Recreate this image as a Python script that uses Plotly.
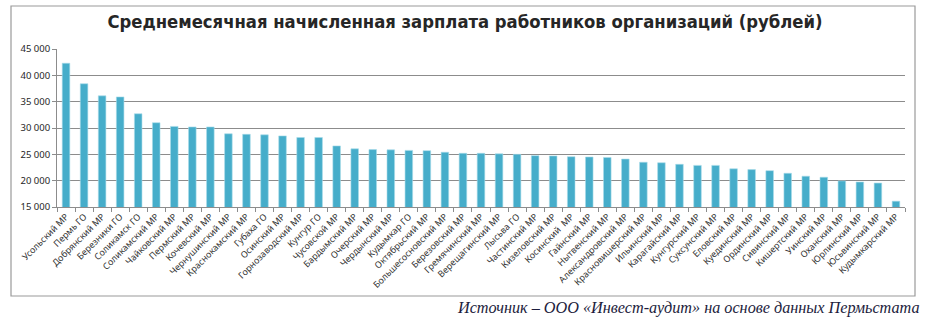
import plotly.graph_objects as go

# Municipal districts and urban okrugs of Perm Krai
regions = [
    "Усольский МР", "Пермь ГО", "Добрянский МР", "Березники ГО", "Соликамск ГО",
    "Соликамский МР", "Чайковский МР", "Пермский МР", "Кочевский МР", "Чернушинский МР",
    "Краснокамский МР", "Губаха ГО", "Осинский МР", "Горнозаводский МР", "Кунгур ГО",
    "Чусовской МР", "Бардымский МР", "Очерский МР", "Чердынский МР", "Кудымкар ГО",
    "Октябрьский МР", "Большесосновский МР", "Березовский МР", "Гремячинский МР",
    "Верещагинский МР", "Лысьва ГО", "Частинский МР", "Кизеловский МР", "Косинский  МР",
    "Гайнский МР", "Нытвенский МР", "Александровский МР", "Красновишерский МР",
    "Ильинский МР", "Карагайский МР", "Кунгурский МР", "Суксунский МР", "Еловский МР",
    "Куединский МР", "Ординский МР", "Сивинский МР", "Кишертский МР", "Уинский МР",
    "Оханский МР", "Юрлинский МР", "Юсьвинский МР", "Кудымкарский МР",
]

# Average monthly accrued wage, rubles
salary = [
    42300, 38400, 36100, 35900, 32700,
    31000, 30300, 30200, 30200, 28900,
    28800, 28700, 28500, 28200, 28200,
    26600, 26050, 25900, 25850, 25750,
    25700, 25400, 25200, 25200, 25100,
    25000, 24750, 24700, 24550, 24500,
    24400, 24100, 23500, 23400, 23100,
    22900, 22900, 22250, 22100, 21900,
    21400, 20850, 20650, 19950, 19750,
    19550, 16100,
]

y_ticks = [15000, 20000, 25000, 30000, 35000, 40000, 45000]

title_text = "Среднемесячная начисленная зарплата работников организаций (рублей)"
source_text = "Источник – ООО «Инвест-аудит» на основе данных Пермьстата"

fig = go.Figure(
    go.Bar(
        x=regions,
        y=salary,
        marker=dict(color="#46ADCA", line=dict(color="#A8DCEA", width=0.6)),
        width=0.42,
    )
)

L, R, T, B = 57, 27, 49, 122
W, H = 932, 329
pw, ph = W - L - R, H - T - B


def px_x(px):
    return (px - L) / pw


def px_y(py):
    return (H - B - py) / ph


fig.update_layout(
    width=W,
    height=H,
    margin=dict(l=L, r=R, t=T, b=B),
    paper_bgcolor="white",
    plot_bgcolor="white",
    separators=", ",
    showlegend=False,
    bargap=0.58,
    title=dict(
        text=title_text,
        x=465 / W,
        xref="container",
        xanchor="center",
        y=1 - 22 / H,
        yref="container",
        yanchor="middle",
        font=dict(family="DejaVu Sans Condensed, Open Sans, sans-serif", size=18.3,
                  color="#262626", weight="bold"),
    ),
    xaxis=dict(
        type="category",
        tickangle=-45,
        tickfont=dict(family="Noto Sans", size=9, color="#333333"),
        showline=True,
        linecolor="#8c8c8c",
        linewidth=1,
        ticks="outside",
        tickson="boundaries",
        ticklen=4,
        tickcolor="#8c8c8c",
        showgrid=False,
    ),
    yaxis=dict(
        range=[15000, 45000],
        tickvals=y_ticks,
        tickformat=",d",
        tickfont=dict(family="Noto Sans", size=9.5, color="#262626"),
        showline=True,
        linecolor="#8c8c8c",
        linewidth=1,
        ticks="outside",
        ticklen=4,
        tickcolor="#8c8c8c",
        showgrid=True,
        gridcolor="#8c8c8c",
        gridwidth=1,
        zeroline=False,
    ),
    shapes=[
        dict(
            type="rect",
            xref="paper",
            yref="paper",
            x0=px_x(11),
            x1=px_x(915),
            y0=px_y(296),
            y1=px_y(6),
            line=dict(color="#9a9a9a", width=1.2),
            fillcolor="rgba(0,0,0,0)",
            layer="below",
        )
    ],
    annotations=[
        dict(
            text=source_text,
            xref="paper",
            yref="paper",
            x=px_x(922),
            y=px_y(308),
            xanchor="right",
            yanchor="middle",
            showarrow=False,
            font=dict(family="Liberation Serif", size=16.2, color="#1c1c3c", style="italic"),
        )
    ],
)

fig.write_html("out.html")
